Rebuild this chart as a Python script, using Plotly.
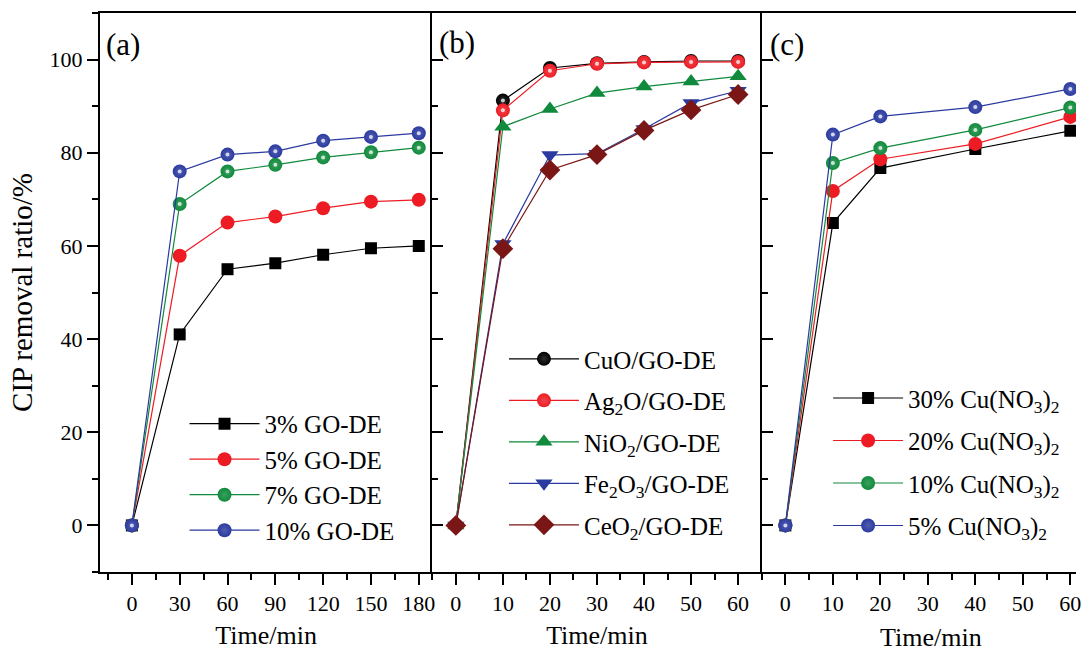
import plotly.graph_objects as go

# ---- data -------------------------------------------------------------
# (a) GO loading
time_a = [0, 30, 60, 90, 120, 150, 180]
go3 = [0, 41.0, 55.0, 56.3, 58.1, 59.5, 60.0]
go5 = [0, 57.9, 65.0, 66.3, 68.1, 69.5, 69.9]
go7 = [0, 69.0, 76.0, 77.4, 79.0, 80.1, 81.1]
go10 = [0, 76.0, 79.6, 80.3, 82.6, 83.4, 84.2]

# (b) metal oxide
time_b = [0, 10, 20, 30, 40, 50, 60]
cuo = [0, 91.2, 98.2, 99.2, 99.5, 99.7, 99.7]
ag2o = [0, 89.1, 97.6, 99.1, 99.4, 99.5, 99.5]
nio2 = [0, 85.6, 89.4, 92.8, 94.2, 95.3, 96.4]
fe2o3 = [0, 60.4, 79.5, 79.8, 85.1, 90.7, 93.3]
ceo2 = [0, 59.4, 76.3, 79.6, 84.8, 89.2, 92.5]

# (c) Cu(NO3)2 loading
time_c = [0, 10, 20, 40, 60]
cu30 = [0, 64.9, 76.7, 80.8, 84.7]
cu20 = [0, 71.8, 78.6, 81.9, 87.7]
cu10 = [0, 77.8, 81.0, 84.9, 89.7]
cu5 = [0, 83.9, 87.8, 89.8, 93.7]

FONT = "Liberation Serif, 'Times New Roman', Times, serif"
BLACK = "#000000"
RED = "#ed1c24"
GREEN = "#108a3c"
BLUE = "#2b3aa0"
BROWN = "#7a1616"


def lighten(hex_color, f):
    h = hex_color.lstrip("#")
    r, g, b = (int(h[i:i + 2], 16) for i in (0, 2, 4))
    r, g, b = (int(c + (255 - c) * f) for c in (r, g, b))
    return f"rgb({r},{g},{b})"


fig = go.Figure()


def add_series(x, y, name, color, symbol, size, axis, legend, sphere=False):
    xa, ya = axis
    marker = dict(symbol=symbol, size=size, color=color, line=dict(width=0))
    if sphere:
        marker["gradient"] = dict(type="radial", color=lighten(color, 0.18))
    fig.add_trace(go.Scatter(
        x=x, y=y, name=name, mode="lines+markers",
        line=dict(color=color, width=1.2), marker=marker,
        xaxis=xa, yaxis=ya, legend=legend, legendgroup=name,
    ))
    if sphere:
        # small specular highlight on the ball markers
        fig.add_trace(go.Scatter(
            x=x, y=y, mode="markers", showlegend=False, hoverinfo="skip",
            marker=dict(symbol="circle", size=4, color="rgba(255,255,255,0.75)"),
            xaxis=xa, yaxis=ya,
        ))


A = ("x", "y")
B = ("x2", "y2")
C = ("x3", "y3")

add_series(time_a, go3, "3% GO-DE", BLACK, "square", 12, A, "legend")
add_series(time_a, go5, "5% GO-DE", RED, "circle", 14, A, "legend")
add_series(time_a, go7, "7% GO-DE", GREEN, "circle", 14, A, "legend", sphere=True)
add_series(time_a, go10, "10% GO-DE", BLUE, "circle", 14, A, "legend", sphere=True)

add_series(time_b, cuo, "CuO/GO-DE", BLACK, "circle", 14, B, "legend2", sphere=True)
add_series(time_b, ag2o, "Ag<sub>2</sub>O/GO-DE", RED, "circle", 14, B, "legend2", sphere=True)
add_series(time_b, nio2, "NiO<sub>2</sub>/GO-DE", GREEN, "triangle-up", 15, B, "legend2")
add_series(time_b, fe2o3, "Fe<sub>2</sub>O<sub>3</sub>/GO-DE", BLUE, "triangle-down", 15, B, "legend2")
add_series(time_b, ceo2, "CeO<sub>2</sub>/GO-DE", BROWN, "diamond", 16, B, "legend2")

add_series(time_c, cu30, "30% Cu(NO<sub>3</sub>)<sub>2</sub>", BLACK, "square", 12, C, "legend3")
add_series(time_c, cu20, "20% Cu(NO<sub>3</sub>)<sub>2</sub>", RED, "circle", 14, C, "legend3")
add_series(time_c, cu10, "10% Cu(NO<sub>3</sub>)<sub>2</sub>", GREEN, "circle", 14, C, "legend3", sphere=True)
add_series(time_c, cu5, "5% Cu(NO<sub>3</sub>)<sub>2</sub>", BLUE, "circle", 14, C, "legend3", sphere=True)

tickfont = dict(family=FONT, size=22, color=BLACK)
titlefont = dict(family=FONT, size=26, color=BLACK)

axis_common = dict(
    showline=True, linewidth=2, linecolor=BLACK, showgrid=False, zeroline=False,
    ticklen=11, tickwidth=2, tickcolor=BLACK, tickfont=tickfont,
    ticklabeloverflow="allow",
)


def xaxis(domain, rng, dtick, mdtick, title=True):
    ax = dict(
        axis_common, domain=domain, range=rng, dtick=dtick, tick0=0,
        ticks="outside", mirror=True,
        minor=dict(dtick=mdtick, tick0=0, ticks="outside", ticklen=6, tickwidth=2, tickcolor=BLACK),
    )
    if title:
        ax["title"] = dict(text="Time/min", font=titlefont, standoff=10)
    return ax


def yaxis(anchor, ticks, labels):
    return dict(
        axis_common, domain=[0, 1], range=[-10, 110], dtick=20, tick0=0,
        ticks=ticks, showticklabels=labels, mirror=False, anchor=anchor,
        minor=dict(dtick=10, tick0=0, ticks=ticks, ticklen=6, tickwidth=2, tickcolor=BLACK),
    )


legend_common = dict(
    font=dict(family=FONT, size=25, color=BLACK), bgcolor="rgba(0,0,0,0)",
    borderwidth=0, xanchor="left", yanchor="top", itemwidth=70, traceorder="grouped",
)

panel_font = dict(family=FONT, size=31, color=BLACK)

fig.update_layout(
    width=1081, height=651,
    margin=dict(l=100, r=0, t=13, b=79),
    paper_bgcolor="white", plot_bgcolor="white",
    font=dict(family=FONT, color=BLACK),
    xaxis=xaxis([0, 0.3405], [-20, 188.5], 30, 15),
    xaxis2=dict(xaxis([0.3405, 0.6779], [-5, 65], 10, 5), anchor="y2"),
    # the third panel runs past the right edge of the figure
    xaxis3=dict(xaxis([0.6779, 1.0], [-5, 61.2], 10, 5, title=False), anchor="y3"),
    yaxis=dict(yaxis("x", "outside", True),
               title=dict(text="CIP removal ratio/%", font=dict(family=FONT, size=29, color=BLACK),
                          standoff=8)),
    yaxis2=yaxis("x2", "inside", False),
    yaxis3=yaxis("x3", "inside", False),
    legend=dict(legend_common, x=0.0866, y=0.306, tracegroupgap=0),
    legend2=dict(legend_common, x=0.4139, y=0.422, tracegroupgap=6),
    legend3=dict(legend_common, x=0.746, y=0.352, tracegroupgap=7),
    annotations=[
        dict(text="(a)", x=0.004, y=0.943, xref="paper", yref="paper",
             xanchor="left", yanchor="middle", showarrow=False, font=panel_font),
        dict(text="(b)", x=0.3456, y=0.948, xref="paper", yref="paper",
             xanchor="left", yanchor="middle", showarrow=False, font=panel_font),
        dict(text="(c)", x=0.684, y=0.943, xref="paper", yref="paper",
             xanchor="left", yanchor="middle", showarrow=False, font=panel_font),
        dict(text="Time/min", x=0.851, y=-0.117, xref="paper", yref="paper",
             xanchor="center", yanchor="middle", showarrow=False, font=titlefont),
    ],
)

fig.write_html("out.html")
